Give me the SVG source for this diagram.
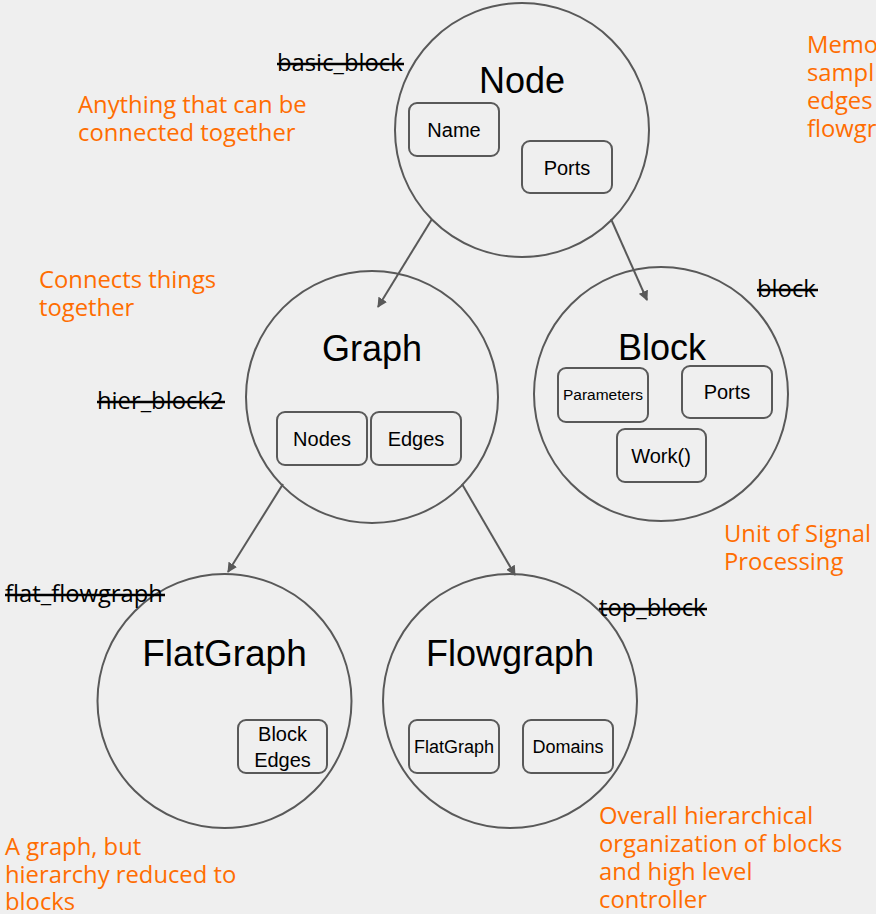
<svg xmlns="http://www.w3.org/2000/svg" width="876" height="914" viewBox="0 0 876 914">
<defs>
<marker id="ah" viewBox="0 0 10 10" refX="9" refY="5" markerWidth="5" markerHeight="5" orient="auto" markerUnits="strokeWidth">
<path d="M0,0 L10,5 L0,10 z" fill="#595959"/>
</marker>
<style>
.c{fill:none;stroke:#595959;stroke-width:2}
.b{fill:none;stroke:#595959;stroke-width:2}
.t{font-family:"Liberation Sans",Arial,sans-serif;font-size:36px;fill:#000;text-anchor:middle}
.bt{font-family:"Liberation Sans",Arial,sans-serif;font-size:20px;fill:#000;text-anchor:middle}
.o{font-family:"Open Sans","Noto Sans",sans-serif;font-size:23.8px;fill:#ff6d01}
.s{font-family:"Open Sans","Noto Sans",sans-serif;font-size:23.8px;fill:#000}
.st{stroke:#000;stroke-width:2.5}
.e{fill:none;stroke:#595959;stroke-width:2;marker-end:url(#ah)}
</style>
</defs>
<rect width="876" height="914" fill="#efefef"/>
<g id="connectors">
<line class="e" x1="432" y1="219" x2="378" y2="307"/>
<line class="e" x1="611" y1="219" x2="647" y2="300"/>
<line class="e" x1="283" y1="484" x2="228" y2="572"/>
<line class="e" x1="462" y1="484" x2="515" y2="575"/>
</g>
<g id="node">
<circle class="c" cx="522" cy="130" r="127"/>
<text class="t" x="522" y="93">Node</text>
<rect class="b" x="409" y="103" width="90" height="53" rx="8"/>
<text class="bt" x="454" y="137">Name</text>
<rect class="b" x="522" y="141" width="90" height="52" rx="8"/>
<text class="bt" x="567" y="175">Ports</text>
</g>
<g id="graph">
<circle class="c" cx="372" cy="397" r="126"/>
<text class="t" x="372" y="361">Graph</text>
<rect class="b" x="277" y="412" width="90" height="53" rx="8"/>
<text class="bt" x="322" y="446">Nodes</text>
<rect class="b" x="371" y="412" width="90" height="53" rx="8"/>
<text class="bt" x="416" y="446">Edges</text>
</g>
<g id="block">
<circle class="c" cx="661" cy="394" r="127"/>
<text class="t" x="662" y="360">Block</text>
<rect class="b" x="558" y="368" width="90" height="54" rx="8"/>
<text class="bt" x="603" y="400" style="font-size:15.5px">Parameters</text>
<rect class="b" x="682" y="366" width="90" height="52" rx="8"/>
<text class="bt" x="727" y="399">Ports</text>
<rect class="b" x="617" y="429" width="89" height="53" rx="8"/>
<text class="bt" x="661" y="463">Work()</text>
</g>
<g id="flatgraph">
<circle class="c" cx="224.5" cy="701" r="127"/>
<text class="t" x="224.5" y="666" style="font-size:37px">FlatGraph</text>
<rect class="b" x="238" y="720" width="89" height="53" rx="8"/>
<text class="bt" x="282.5" y="741">Block</text>
<text class="bt" x="282.5" y="767">Edges</text>
</g>
<g id="flowgraph">
<circle class="c" cx="510" cy="701" r="127"/>
<text class="t" x="510" y="666">Flowgraph</text>
<rect class="b" x="409" y="720" width="90" height="53" rx="8"/>
<text class="bt" x="454" y="753" style="font-size:18px">FlatGraph</text>
<rect class="b" x="523" y="720" width="90" height="53" rx="8"/>
<text class="bt" x="568" y="753" style="font-size:18px">Domains</text>
</g>
<g id="labels">
<text class="s" x="277" y="71">basic_block</text>
<line class="st" x1="277" y1="64" x2="404" y2="64"/>
<text class="s" x="757" y="297">block</text>
<line class="st" x1="757" y1="290" x2="818" y2="290"/>
<text class="s" x="97" y="409">hier_block2</text>
<line class="st" x1="97" y1="402" x2="225" y2="402"/>
<text class="s" x="5" y="602">flat_flowgraph</text>
<line class="st" x1="5" y1="595" x2="165" y2="595"/>
<text class="s" x="599" y="616">top_block</text>
<line class="st" x1="599" y1="609" x2="707" y2="609"/>
<text class="o" x="78" y="113">Anything that can be</text>
<text class="o" x="78" y="141">connected together</text>
<text class="o" x="39" y="288">Connects things</text>
<text class="o" x="39" y="316">together</text>
<text class="o" x="807" y="53">Memo</text>
<text class="o" x="807" y="81">sampl</text>
<text class="o" x="807" y="109">edges</text>
<text class="o" x="807" y="137">flowgr</text>
<text class="o" x="724" y="542">Unit of Signal</text>
<text class="o" x="724" y="570">Processing</text>
<text class="o" x="5" y="855">A graph, but</text>
<text class="o" x="5" y="883">hierarchy reduced to</text>
<text class="o" x="5" y="910">blocks</text>
<text class="o" x="599" y="824">Overall hierarchical</text>
<text class="o" x="599" y="852">organization of blocks</text>
<text class="o" x="599" y="880">and high level</text>
<text class="o" x="599" y="908">controller</text>
</g>
</svg>
